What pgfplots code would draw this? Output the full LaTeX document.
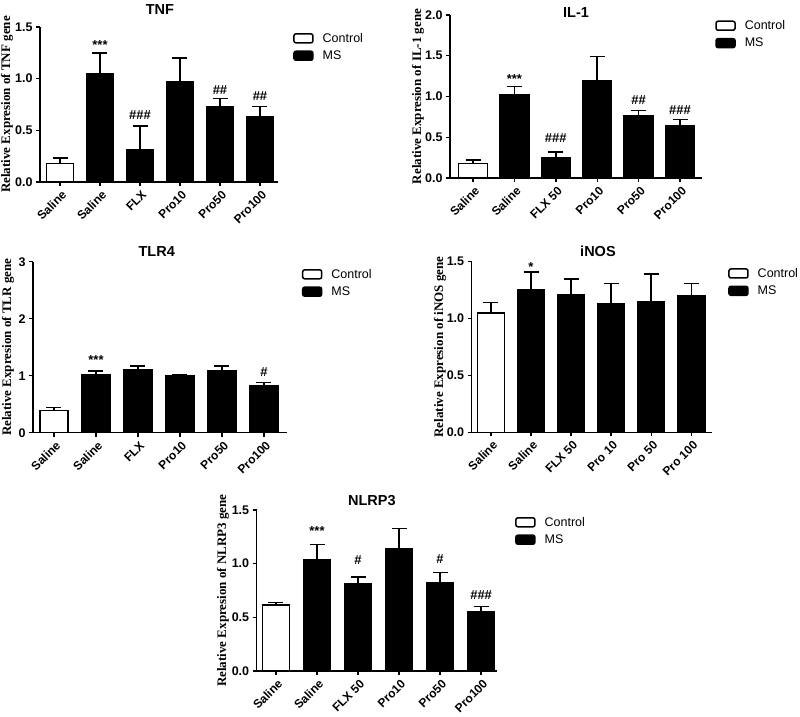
\documentclass[border=0pt]{standalone}
\usepackage{fontspec}
\setmainfont{Liberation Sans}
\newfontfamily\serifb{Liberation Serif}
\usepackage{pgfplots}
\pgfplotsset{compat=1.18}
\usepackage{pgfplotstable}

% relative expression, mean and upper error (SEM)
\pgfplotstableread{
x y e
0 0.18 0.05
}\tnfctl
\pgfplotstableread{
x y e
1 1.05 0.20
2 0.31 0.23
3 0.97 0.23
4 0.73 0.08
5 0.63 0.10
}\tnfms
\pgfplotstableread{
x y e
0 0.18 0.04
}\ilctl
\pgfplotstableread{
x y e
1 1.02 0.10
2 0.25 0.07
3 1.19 0.30
4 0.76 0.07
5 0.64 0.08
}\ilms
\pgfplotstableread{
x y e
0 0.39 0.05
}\tlrctl
\pgfplotstableread{
x y e
1 1.02 0.06
2 1.10 0.07
3 1.00 0.01
4 1.09 0.08
5 0.82 0.06
}\tlrms
\pgfplotstableread{
x y e
0 1.05 0.09
}\inosctl
\pgfplotstableread{
x y e
1 1.25 0.16
2 1.21 0.14
3 1.13 0.18
4 1.15 0.24
5 1.20 0.11
}\inosms
\pgfplotstableread{
x y e
0 0.615 0.025
}\nlrctl
\pgfplotstableread{
x y e
1 1.04 0.14
2 0.81 0.065
3 1.14 0.19
4 0.82 0.10
5 0.55 0.05
}\nlrms

\tikzset{sig/.style={font=\bfseries\fontsize{13}{14}\selectfont, inner sep=0pt}}

\pgfplotsset{
  panel/.style={
    scale only axis, anchor=south west, clip=false,
    axis x line*=bottom, axis y line*=left,
    axis line style={line width=1.5pt, black},
    ymin=0, xtick={0,...,5},
    tick align=outside, major tick length=4pt,
    tick style={line width=1.4pt, black},
    /pgf/number format/assume math mode=true,
    yticklabel style={font=\bfseries\fontsize{12.5}{13}\selectfont,
      /pgf/number format/.cd, fixed, fixed zerofill, precision=1},
    xticklabel style={font=\bfseries\fontsize{12}{13}\selectfont,
      xshift=5pt, yshift=-6pt, rotate=45, anchor=east, inner sep=1pt},
    ylabel style={font=\serifb\bfseries\fontsize{13}{14}\selectfont, anchor=center},
    every axis title shift=0pt,
    title style={font=\bfseries\fontsize{14.5}{16}\selectfont, anchor=center},
    legend style={draw=none, fill=none, anchor=north west, inner sep=0pt,
      font=\fontsize{12.5}{14}\selectfont, row sep=3pt, cells={anchor=west},
      /tikz/every odd column/.append style={column sep=7pt}},
  },
  barstyle/.style={ybar, bar shift=0pt, draw=black, line width=1.5pt,
    legend image code/.code={\draw[line width=1.5pt, rounded corners=2pt, ##1]
      (0pt,-4.5pt) rectangle (19pt,4.5pt);},
    error bars/y dir=plus, error bars/y explicit,
    error bars/error bar style={line width=1.5pt, black},
    error bars/error mark options={rotate=90, line width=1.5pt, black, mark size=7.5pt}},
  ctl/.style={barstyle, fill=white},
  ms/.style={barstyle, fill=black},
}

\begin{document}
\begin{tikzpicture}
\useasboundingbox (0pt,0pt) rectangle (800pt,-717pt);

% TNF
\begin{axis}[panel, at={(40pt,-182pt)}, width=238pt, height=155pt,
  xmin=-0.5, xmax=5.45, ymax=1.5, ytick={0,0.5,1,1.5},
  xticklabels={Saline,Saline,FLX,Pro10,Pro50,Pro100},
  title={TNF}, title style={at={(0.504,1.116)}},
  ylabel={Relative Expresion of TNF gene}, ylabel style={at={(-0.139,0.5)}},
  legend style={at={(1.063,0.975)}}]
  \addplot[ctl, bar width=0.675] table[x=x, y=y, y error=e] {\tnfctl};
  \addlegendentry{Control}
  \addplot[ms, bar width=0.675] table[x=x, y=y, y error=e] {\tnfms};
  \addlegendentry{MS}
  \node[sig] at (axis cs:1,1.33) {***};
  \node[sig] at (axis cs:2,0.65) {\#\#\#};
  \node[sig] at (axis cs:4,0.89) {\#\#};
  \node[sig] at (axis cs:5,0.83) {\#\#};
\end{axis}

% IL-1
\begin{axis}[panel, at={(450pt,-178pt)}, width=252pt, height=163pt,
  xmin=-0.556, xmax=5.53, ymax=2, ytick={0,0.5,1,1.5,2},
  xticklabels={Saline,Saline,FLX 50,Pro10,Pro50,Pro100},
  title={IL-1}, title style={at={(0.5,1.018)}},
  ylabel={Relative Expresion of IL-1 gene}, ylabel style={at={(-0.127,0.5)}},
  legend style={at={(1.052,0.98)}}]
  \addplot[ctl, bar width=0.70] table[x=x, y=y, y error=e] {\ilctl};
  \addlegendentry{Control}
  \addplot[ms, bar width=0.70] table[x=x, y=y, y error=e] {\ilms};
  \addlegendentry{MS}
  \node[sig] at (axis cs:1,1.22) {***};
  \node[sig] at (axis cs:2,0.49) {\#\#\#};
  \node[sig] at (axis cs:4,0.96) {\#\#};
  \node[sig] at (axis cs:5,0.83) {\#\#\#};
\end{axis}

% TLR4
\begin{axis}[panel, at={(33pt,-432.7pt)}, width=254pt, height=171pt,
  xmin=-0.5, xmax=5.55, ymax=3, ytick={0,1,2,3},
  yticklabel style={/pgf/number format/.cd, fixed, precision=0, fixed zerofill=false},
  xticklabels={Saline,Saline,FLX,Pro10,Pro50,Pro100},
  title={TLR4}, title style={at={(0.487,1.058)}},
  ylabel={Relative Expresion of TLR gene}, ylabel style={at={(-0.098,0.5)}},
  legend style={at={(1.058,0.97)}}]
  \addplot[ctl, bar width=0.667] table[x=x, y=y, y error=e] {\tlrctl};
  \addlegendentry{Control}
  \addplot[ms, bar width=0.667] table[x=x, y=y, y error=e] {\tlrms};
  \addlegendentry{MS}
  \node[sig] at (axis cs:1,1.28) {***};
  \node[sig] at (axis cs:5,1.07) {\#};
\end{axis}

% iNOS
\begin{axis}[panel, at={(471.7pt,-432.3pt)}, width=240pt, height=170.6pt,
  xmin=-0.48, xmax=5.51, ymax=1.5, ytick={0,0.5,1,1.5},
  xticklabels={Saline,Saline,FLX 50,Pro 10,Pro 50,Pro 100},
  title={iNOS}, title style={at={(0.526,1.059)}},
  ylabel={Relative Expresion of iNOS gene}, ylabel style={at={(-0.132,0.5)}},
  legend style={at={(1.068,0.975)}}]
  \addplot[ctl, bar width=0.675] table[x=x, y=y, y error=e] {\inosctl};
  \addlegendentry{Control}
  \addplot[ms, bar width=0.675] table[x=x, y=y, y error=e] {\inosms};
  \addlegendentry{MS}
  \node[sig] at (axis cs:1,1.45) {*};
\end{axis}

% NLRP3
\begin{axis}[panel, at={(256.7pt,-671pt)}, width=240pt, height=161pt,
  xmin=-0.47, xmax=5.38, ymax=1.5, ytick={0,0.5,1,1.5},
  xticklabels={Saline,Saline,FLX 50,Pro10,Pro50,Pro100},
  title={NLRP3}, title style={at={(0.48,1.062)}},
  ylabel={Relative Expresion of NLRP3 gene}, ylabel style={at={(-0.14,0.5)}},
  legend style={at={(1.076,0.97)}}]
  \addplot[ctl, bar width=0.66] table[x=x, y=y, y error=e] {\nlrctl};
  \addlegendentry{Control}
  \addplot[ms, bar width=0.66] table[x=x, y=y, y error=e] {\nlrms};
  \addlegendentry{MS}
  \node[sig] at (axis cs:1,1.30) {***};
  \node[sig] at (axis cs:2,1.03) {\#};
  \node[sig] at (axis cs:4,1.04) {\#};
  \node[sig] at (axis cs:5,0.71) {\#\#\#};
\end{axis}
\end{tikzpicture}
\end{document}
